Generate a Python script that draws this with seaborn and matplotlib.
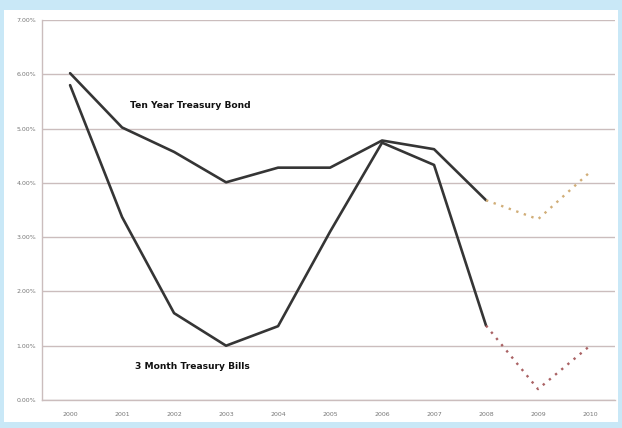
import matplotlib
matplotlib.use("Agg")
import matplotlib.pyplot as plt
import matplotlib.patches as mpatches
from matplotlib.ticker import PercentFormatter
import seaborn as sns
import pandas as pd

years = [2000, 2001, 2002, 2003, 2004, 2005, 2006, 2007, 2008]
ten_year = [6.02, 5.02, 4.57, 4.01, 4.28, 4.28, 4.78, 4.62, 3.68]
three_month = [5.80, 3.37, 1.60, 1.00, 1.36, 3.10, 4.74, 4.33, 1.37]
proj_years = [2008, 2009, 2010]
ten_year_proj = [3.68, 3.33, 4.20]
three_month_proj = [1.37, 0.20, 1.00]
tick_years = list(range(2000, 2011))

sns.set_theme(style="white")
plt.rcParams['font.family'] = ['DejaVu Sans']

fig = plt.figure(figsize=(6.22, 4.28), dpi=100, facecolor="#c9e8f7")
W, H = 622, 428
bg = mpatches.Rectangle((4 / W, 6 / H), 614 / W, 412 / H,
                        transform=fig.transFigure, facecolor="white",
                        edgecolor="none", zorder=-10)
fig.add_artist(bg)
ax = fig.add_axes([42 / W, 28 / H, 573 / W, 380 / H])
ax.set_facecolor("white")
ax.set_zorder(5)

df = pd.DataFrame({"year": years, "ten": ten_year, "bill": three_month})
dfp = pd.DataFrame({"year": proj_years, "ten": ten_year_proj, "bill": three_month_proj})

sns.lineplot(data=df, x="year", y="ten", ax=ax, color="#353535", linewidth=1.9)
sns.lineplot(data=df, x="year", y="bill", ax=ax, color="#353535", linewidth=1.9)
sns.lineplot(data=dfp, x="year", y="ten", ax=ax, color="#d1ae78", linewidth=1.7, linestyle=(0, (1, 2.4)))
sns.lineplot(data=dfp, x="year", y="bill", ax=ax, color="#aa6264", linewidth=1.7, linestyle=(0, (1, 2.4)))

ax.set_xlim(1999.46, 2010.48)
ax.set_ylim(0, 7)
ax.set_yticks(range(0, 8))
ax.yaxis.set_major_formatter(PercentFormatter(decimals=2))
ax.set_xticks(tick_years)
ax.set_xticklabels([str(y) for y in tick_years])
ax.grid(axis="y", color="#cbbdbd", linewidth=1.0)
ax.set_axisbelow(True)
for s in ["top", "right"]:
    ax.spines[s].set_visible(False)
for s in ["left", "bottom"]:
    ax.spines[s].set_color("#cbbdbd")
    ax.spines[s].set_linewidth(1.0)
ax.tick_params(axis="both", labelsize=4.5, labelcolor="#777777", length=0, pad=4)
ax.tick_params(axis="x", pad=9)
ax.set_xlabel("")
ax.set_ylabel("")

ax.text(2001.15, 5.42, "Ten Year Treasury Bond", fontsize=6.6, fontweight="bold", color="#111111", va="center")
ax.text(2001.25, 0.62, "3 Month Treasury Bills", fontsize=6.6, fontweight="bold", color="#111111", va="center")

fig.savefig("out.png", dpi=100, facecolor=fig.get_facecolor())
